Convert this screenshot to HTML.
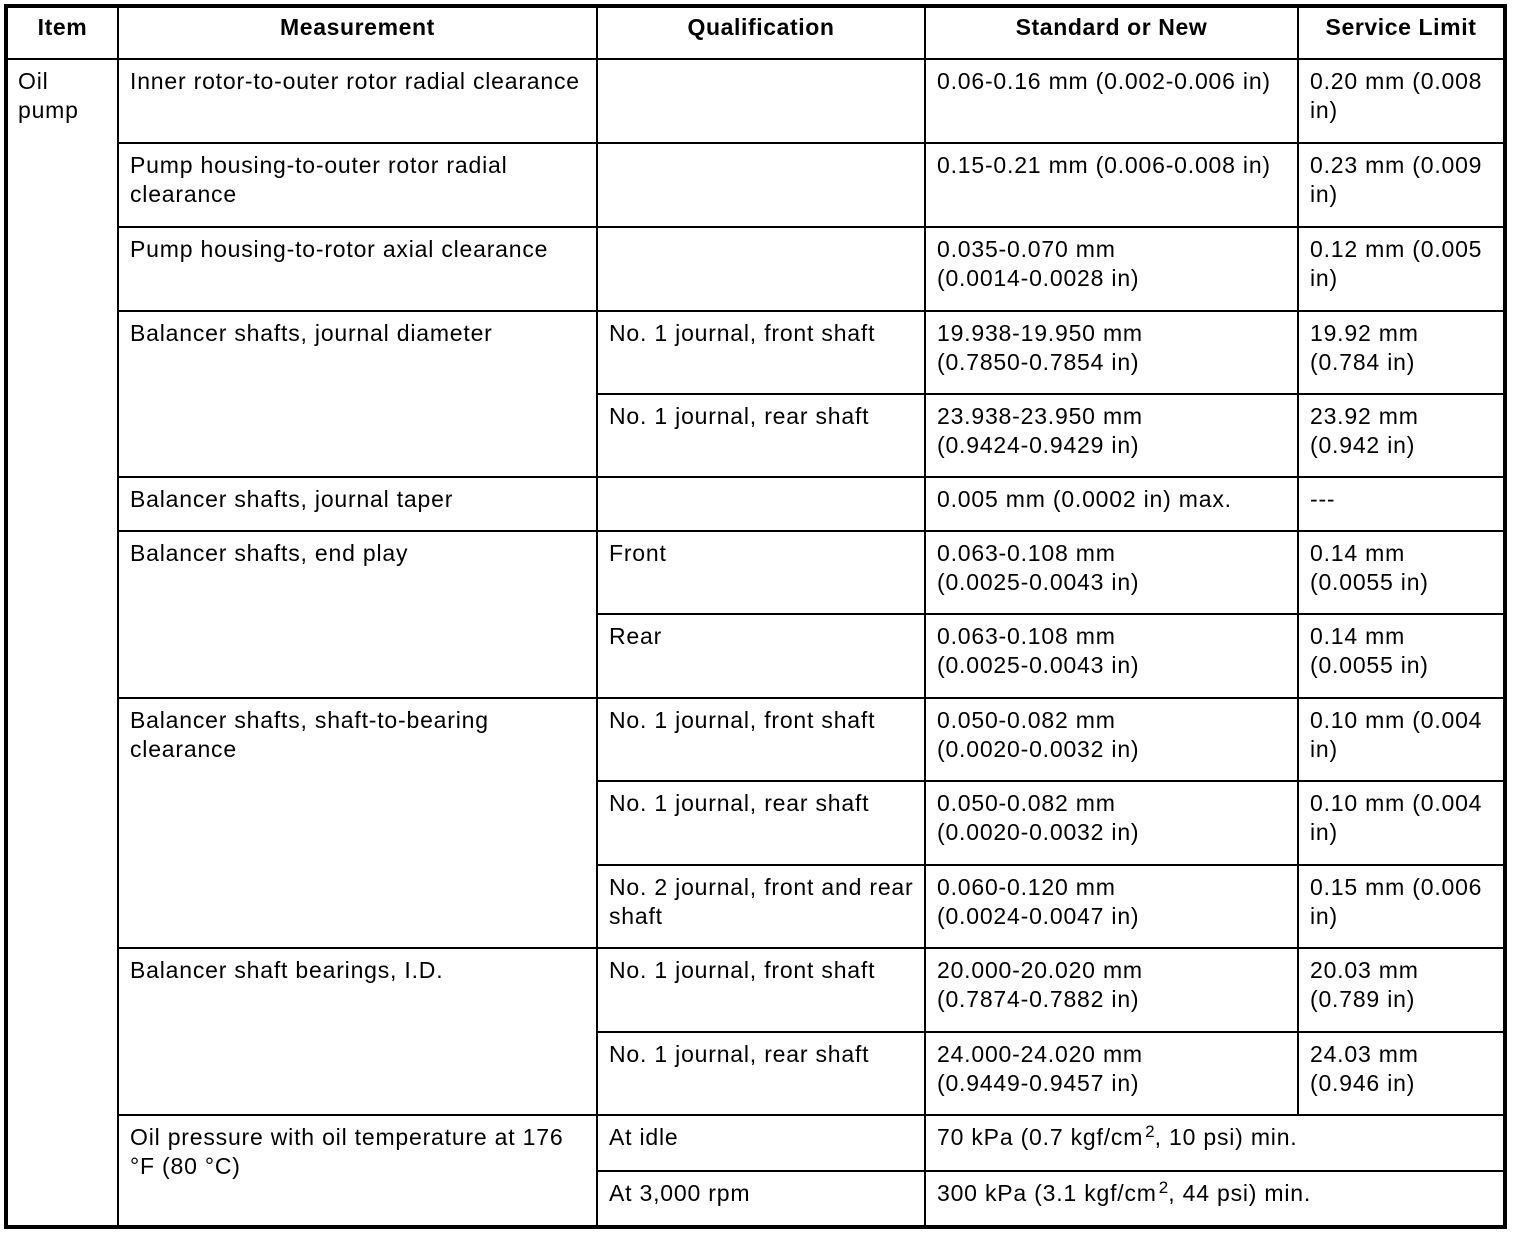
<!DOCTYPE html>
<html>
<head>
<meta charset="utf-8">
<style>
  html, body { margin:0; padding:0; background:#fff; }
  #c { position:relative; width:1520px; height:1234px; background:#fff; overflow:hidden; }
  .l { position:absolute; background:#000; }
  .t { position:absolute; font-family:"Liberation Sans", Arial, sans-serif; font-size:23px; letter-spacing:0.8px; line-height:29px; color:#000; white-space:nowrap; }
  .h { font-weight:bold; text-align:center; letter-spacing:0.6px; }
  sup { font-size:17px; line-height:0; vertical-align:8px; letter-spacing:0; margin-left:2px; }
</style>
</head>
<body>
<div id="c">
  <!-- outer border -->
  <div class="l" style="left:4px;top:4px;width:1503px;height:4px;"></div>
  <div class="l" style="left:4px;top:1225px;width:1503px;height:4px;"></div>
  <div class="l" style="left:4px;top:4px;width:4px;height:1225px;"></div>
  <div class="l" style="left:1503px;top:4px;width:4px;height:1225px;"></div>

  <!-- vertical inner lines -->
  <div class="l" style="left:117px;top:8px;width:2px;height:1217px;"></div>
  <div class="l" style="left:596px;top:8px;width:2px;height:1217px;"></div>
  <div class="l" style="left:924px;top:8px;width:2px;height:1217px;"></div>
  <div class="l" style="left:1297px;top:8px;width:2px;height:1108px;"></div>

  <!-- header bottom -->
  <div class="l" style="left:8px;top:58px;width:1495px;height:2px;"></div>

  <!-- measurement-level lines -->
  <div class="l" style="left:117px;top:142px;width:1386px;height:2px;"></div>
  <div class="l" style="left:117px;top:226px;width:1386px;height:2px;"></div>
  <div class="l" style="left:117px;top:310px;width:1386px;height:2px;"></div>
  <div class="l" style="left:117px;top:476px;width:1386px;height:2px;"></div>
  <div class="l" style="left:117px;top:530px;width:1386px;height:2px;"></div>
  <div class="l" style="left:117px;top:697px;width:1386px;height:2px;"></div>
  <div class="l" style="left:117px;top:947px;width:1386px;height:2px;"></div>
  <div class="l" style="left:117px;top:1114px;width:1386px;height:2px;"></div>

  <!-- sub-row lines -->
  <div class="l" style="left:596px;top:393px;width:907px;height:2px;"></div>
  <div class="l" style="left:596px;top:613px;width:907px;height:2px;"></div>
  <div class="l" style="left:596px;top:780px;width:907px;height:2px;"></div>
  <div class="l" style="left:596px;top:864px;width:907px;height:2px;"></div>
  <div class="l" style="left:596px;top:1031px;width:907px;height:2px;"></div>
  <div class="l" style="left:596px;top:1170px;width:907px;height:2px;"></div>

  <!-- header -->
  <div class="t h" style="left:8px;top:13px;width:109px;">Item</div>
  <div class="t h" style="left:119px;top:13px;width:477px;">Measurement</div>
  <div class="t h" style="left:598px;top:13px;width:326px;">Qualification</div>
  <div class="t h" style="left:926px;top:13px;width:371px;">Standard or New</div>
  <div class="t h" style="left:1299px;top:13px;width:204px;">Service Limit</div>

  <!-- Item -->
  <div class="t" style="left:18px;top:67px;">Oil<br>pump</div>

  <!-- Row 58 -->
  <div class="t" style="left:130px;top:67px;">Inner rotor-to-outer rotor radial clearance</div>
  <div class="t" style="left:937px;top:67px;">0.06-0.16 mm (0.002-0.006 in)</div>
  <div class="t" style="left:1310px;top:67px;">0.20 mm (0.008<br>in)</div>

  <!-- Row 142 -->
  <div class="t" style="left:130px;top:151px;">Pump housing-to-outer rotor radial<br>clearance</div>
  <div class="t" style="left:937px;top:151px;">0.15-0.21 mm (0.006-0.008 in)</div>
  <div class="t" style="left:1310px;top:151px;">0.23 mm (0.009<br>in)</div>

  <!-- Row 226 -->
  <div class="t" style="left:130px;top:235px;">Pump housing-to-rotor axial clearance</div>
  <div class="t" style="left:937px;top:235px;">0.035-0.070 mm<br>(0.0014-0.0028 in)</div>
  <div class="t" style="left:1310px;top:235px;">0.12 mm (0.005<br>in)</div>

  <!-- Row 310 -->
  <div class="t" style="left:130px;top:319px;">Balancer shafts, journal diameter</div>
  <div class="t" style="left:609px;top:319px;">No. 1 journal, front shaft</div>
  <div class="t" style="left:937px;top:319px;">19.938-19.950 mm<br>(0.7850-0.7854 in)</div>
  <div class="t" style="left:1310px;top:319px;">19.92 mm<br>(0.784 in)</div>

  <!-- Row 393 -->
  <div class="t" style="left:609px;top:402px;">No. 1 journal, rear shaft</div>
  <div class="t" style="left:937px;top:402px;">23.938-23.950 mm<br>(0.9424-0.9429 in)</div>
  <div class="t" style="left:1310px;top:402px;">23.92 mm<br>(0.942 in)</div>

  <!-- Row 476 -->
  <div class="t" style="left:130px;top:485px;">Balancer shafts, journal taper</div>
  <div class="t" style="left:937px;top:485px;">0.005 mm (0.0002 in) max.</div>
  <div class="t" style="left:1310px;top:485px;">---</div>

  <!-- Row 530 -->
  <div class="t" style="left:130px;top:539px;">Balancer shafts, end play</div>
  <div class="t" style="left:609px;top:539px;">Front</div>
  <div class="t" style="left:937px;top:539px;">0.063-0.108 mm<br>(0.0025-0.0043 in)</div>
  <div class="t" style="left:1310px;top:539px;">0.14 mm<br>(0.0055 in)</div>

  <!-- Row 613 -->
  <div class="t" style="left:609px;top:622px;">Rear</div>
  <div class="t" style="left:937px;top:622px;">0.063-0.108 mm<br>(0.0025-0.0043 in)</div>
  <div class="t" style="left:1310px;top:622px;">0.14 mm<br>(0.0055 in)</div>

  <!-- Row 697 -->
  <div class="t" style="left:130px;top:706px;">Balancer shafts, shaft-to-bearing<br>clearance</div>
  <div class="t" style="left:609px;top:706px;">No. 1 journal, front shaft</div>
  <div class="t" style="left:937px;top:706px;">0.050-0.082 mm<br>(0.0020-0.0032 in)</div>
  <div class="t" style="left:1310px;top:706px;">0.10 mm (0.004<br>in)</div>

  <!-- Row 780 -->
  <div class="t" style="left:609px;top:789px;">No. 1 journal, rear shaft</div>
  <div class="t" style="left:937px;top:789px;">0.050-0.082 mm<br>(0.0020-0.0032 in)</div>
  <div class="t" style="left:1310px;top:789px;">0.10 mm (0.004<br>in)</div>

  <!-- Row 864 -->
  <div class="t" style="left:609px;top:873px;">No. 2 journal, front and rear<br>shaft</div>
  <div class="t" style="left:937px;top:873px;">0.060-0.120 mm<br>(0.0024-0.0047 in)</div>
  <div class="t" style="left:1310px;top:873px;">0.15 mm (0.006<br>in)</div>

  <!-- Row 947 -->
  <div class="t" style="left:130px;top:956px;">Balancer shaft bearings, I.D.</div>
  <div class="t" style="left:609px;top:956px;">No. 1 journal, front shaft</div>
  <div class="t" style="left:937px;top:956px;">20.000-20.020 mm<br>(0.7874-0.7882 in)</div>
  <div class="t" style="left:1310px;top:956px;">20.03 mm<br>(0.789 in)</div>

  <!-- Row 1031 -->
  <div class="t" style="left:609px;top:1040px;">No. 1 journal, rear shaft</div>
  <div class="t" style="left:937px;top:1040px;">24.000-24.020 mm<br>(0.9449-0.9457 in)</div>
  <div class="t" style="left:1310px;top:1040px;">24.03 mm<br>(0.946 in)</div>

  <!-- Row 1114 -->
  <div class="t" style="left:130px;top:1123px;">Oil pressure with oil temperature at 176<br>°F (80 °C)</div>
  <div class="t" style="left:609px;top:1123px;">At idle</div>
  <div class="t" style="left:937px;top:1123px;">70 kPa (0.7 kgf/cm<sup>2</sup>, 10 psi) min.</div>

  <!-- Row 1170 -->
  <div class="t" style="left:609px;top:1179px;">At 3,000 rpm</div>
  <div class="t" style="left:937px;top:1179px;">300 kPa (3.1 kgf/cm<sup>2</sup>, 44 psi) min.</div>
</div>
</body>
</html>
